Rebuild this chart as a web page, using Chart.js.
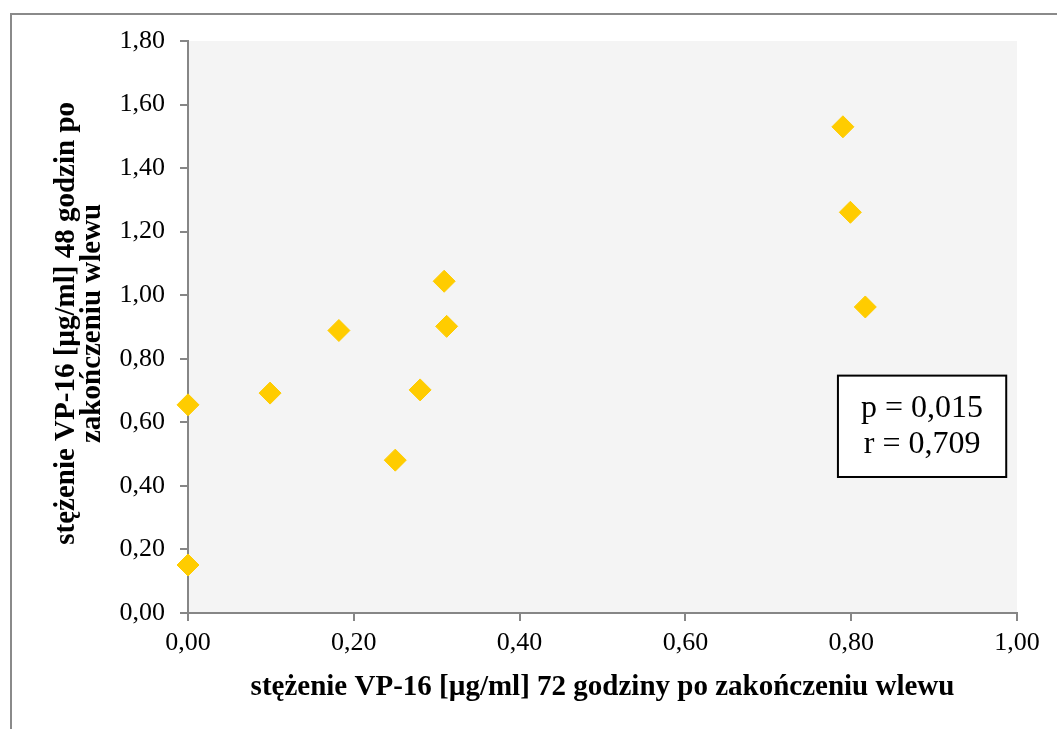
<!DOCTYPE html>
<html lang="pl">
<head>
<meta charset="utf-8">
<title>VP-16 48 h / 72 h</title>
<script src="https://cdn.jsdelivr.net/npm/chart.js@4.4.1/dist/chart.umd.min.js"></script>
<style>
  html, body { margin: 0; padding: 0; background: #ffffff; }
  #wrap { position: relative; width: 1057px; height: 729px; }
</style>
</head>
<body>
<div id="wrap"><canvas id="chart" width="1057" height="729"></canvas></div>
<script>
// Stężenie VP-16 [µg/ml]: 72 h (x) vs 48 h (y) po zakończeniu wlewu
const conc72h = [0.000, 0.000, 0.099, 0.182, 0.250, 0.280, 0.309, 0.312, 0.790, 0.799, 0.817];
const conc48h = [0.151, 0.655, 0.692, 0.889, 0.481, 0.702, 1.044, 0.902, 1.530, 1.261, 0.963];

const xTickValues = [0, 0.2, 0.4, 0.6, 0.8, 1.0];
const xTickLabels = ['0,00', '0,20', '0,40', '0,60', '0,80', '1,00'];
const yTickValues = [0, 0.2, 0.4, 0.6, 0.8, 1.0, 1.2, 1.4, 1.6, 1.8];
const yTickLabels = ['0,00', '0,20', '0,40', '0,60', '0,80', '1,00', '1,20', '1,40', '1,60', '1,80'];

const xTitle = 'stężenie VP-16 [µg/ml] 72 godziny po zakończeniu wlewu';
const yTitle = [' stężenie VP-16 [µg/ml] 48 godzin po', ' zakończeniu wlewu'];

// Statistics box: text lines and its corners in data units
const statLines = ['p = 0,015', 'r = 0,709'];
const statBoxX = [0.784, 0.987];
const statBoxY = [0.428, 0.747];

const SERIF = "'Liberation Serif', 'Times New Roman', serif";
const AXIS_GREY = '#868686';

const points = conc72h.map((x, i) => ({ x: x, y: conc48h[i] }));

// Light grey plot area and the outer frame of the figure
const backgroundPlugin = {
  id: 'plotBackground',
  beforeDraw(chart) {
    const { ctx, chartArea: a } = chart;
    ctx.save();
    ctx.fillStyle = '#f4f4f4';
    ctx.fillRect(a.left, a.top, a.right - a.left, a.bottom - a.top);
    ctx.strokeStyle = '#8a8a8a';
    ctx.lineWidth = 2;
    ctx.strokeRect(11, 14, 1200, 900);
    ctx.restore();
  }
};

// Boxed p / r values placed on the data scales
const statsPlugin = {
  id: 'statsBox',
  afterDatasetsDraw(chart) {
    const { ctx, scales: { x, y } } = chart;
    const l = x.getPixelForValue(statBoxX[0]);
    const r = x.getPixelForValue(statBoxX[1]);
    const t = y.getPixelForValue(statBoxY[1]);
    const b = y.getPixelForValue(statBoxY[0]);
    ctx.save();
    ctx.fillStyle = '#ffffff';
    ctx.fillRect(l, t, r - l, b - t);
    ctx.strokeStyle = '#000000';
    ctx.lineWidth = 2;
    ctx.strokeRect(l, t, r - l, b - t);
    ctx.fillStyle = '#000000';
    ctx.font = '32px ' + SERIF;
    ctx.textAlign = 'center';
    ctx.textBaseline = 'middle';
    const cx = (l + r) / 2;
    const cy = (t + b) / 2;
    const gap = 36;
    statLines.forEach((line, i) => {
      ctx.fillText(line, cx, cy + (i - (statLines.length - 1) / 2) * gap);
    });
    ctx.restore();
  }
};

new Chart(document.getElementById('chart'), {
  type: 'scatter',
  data: {
    datasets: [{
      data: points,
      pointStyle: 'rectRot',
      pointRadius: 11,
      pointHoverRadius: 11,
      backgroundColor: '#ffcc00',
      borderColor: '#ffcc00',
      borderWidth: 1,
      clip: false
    }]
  },
  options: {
    responsive: false,
    animation: false,
    devicePixelRatio: 1,
    layout: { padding: { left: 0, right: 40, top: 41, bottom: 0 } },
    plugins: {
      legend: { display: false },
      tooltip: { enabled: false }
    },
    scales: {
      x: {
        type: 'linear',
        min: 0,
        max: 1,
        afterBuildTicks(scale) { scale.ticks = xTickValues.map(v => ({ value: v })); },
        afterFit(scale) { scale.height = 116; },
        border: { display: true, color: AXIS_GREY, width: 2 },
        grid: { drawOnChartArea: false, drawTicks: true, tickLength: 8, color: AXIS_GREY, lineWidth: 2 },
        ticks: {
          padding: 7,
          color: '#000000',
          font: { family: SERIF, size: 26 },
          maxRotation: 0,
          callback: (v, i) => xTickLabels[i]
        },
        title: {
          display: true,
          text: xTitle,
          color: '#000000',
          font: { family: SERIF, size: 29, weight: 'bold', lineHeight: 1.0 },
          padding: { top: 0, bottom: 27 }
        }
      },
      y: {
        type: 'linear',
        min: 0,
        max: 1.8,
        afterBuildTicks(scale) { scale.ticks = yTickValues.map(v => ({ value: v })); },
        afterFit(scale) { scale.width = 188; },
        border: { display: true, color: AXIS_GREY, width: 2 },
        grid: { drawOnChartArea: false, drawTicks: true, tickLength: 8, color: AXIS_GREY, lineWidth: 2 },
        ticks: {
          padding: 15,
          color: '#000000',
          font: { family: SERIF, size: 26 },
          callback: (v, i) => yTickLabels[i]
        },
        title: {
          display: true,
          text: yTitle,
          color: '#000000',
          font: { family: SERIF, size: 29, weight: 'bold', lineHeight: 0.88 },
          padding: { top: 54, bottom: 0 }
        }
      }
    }
  },
  plugins: [backgroundPlugin, statsPlugin]
});
</script>
</body>
</html>
